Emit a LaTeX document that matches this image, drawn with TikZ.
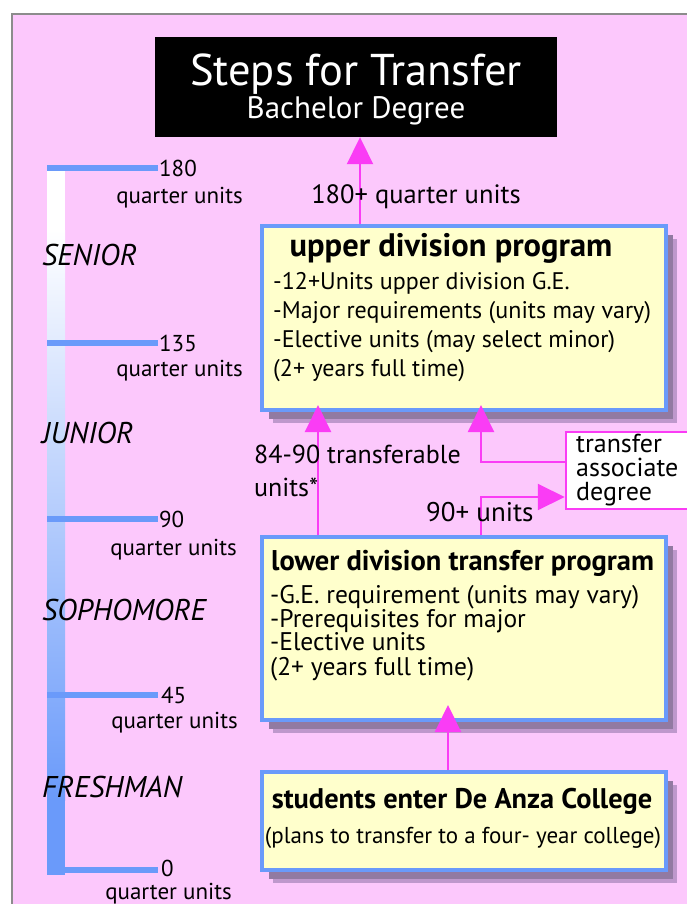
\documentclass[tikz,border=0pt]{standalone}
\usepackage{fontspec}
\setmainfont{PT Sans}
\usetikzlibrary{arrows.meta,shadows}
\definecolor{bgpink}{HTML}{FCC8FC}
\definecolor{boxfill}{HTML}{FFFFCC}
\definecolor{boxblue}{HTML}{6A9AFA}
\definecolor{arrowmag}{HTML}{FA3CF5}
\definecolor{shadowdark}{HTML}{927AA2}
\definecolor{shadowlight}{HTML}{BE98CC}
\definecolor{framegray}{HTML}{8C8C8C}
\tikzset{
  progbox/.style={draw=boxblue, line width=4pt, fill=boxfill, inner sep=0pt,
    general shadow={fill=shadowlight, shadow xshift=11pt, shadow yshift=-13pt},
    general shadow={fill=shadowdark, shadow xshift=7pt, shadow yshift=-9pt}},
  arr/.style={draw=arrowmag, line width=2pt, -{Triangle[width=26pt,length=27pt]}},
  body/.style={inner sep=0pt, font=\fontsize{24}{28}\selectfont},
  lowbody/.style={inner sep=0pt, anchor=base west, font=\fontsize{25.5}{28}\selectfont},
  boldtitle/.style={inner sep=0pt, font=\fontsize{29}{32}\selectfont\bfseries},
  qu/.style={inner sep=0pt, font=\fontsize{23}{26}\selectfont},
  yearlbl/.style={inner sep=0pt, anchor=base west, font=\fontsize{30}{34}\selectfont\itshape},
  tick/.style={draw=boxblue, line width=6pt}
}
\begin{document}
\begin{tikzpicture}[x=1pt,y=-1pt]
\useasboundingbox (0,0) rectangle (687,904);
\clip (0,0) rectangle (687,904);
\fill[white] (0,0) rectangle (687,904);
\fill[bgpink] (12,14) rectangle (687,904);
\draw[framegray, line width=2pt] (12,905) -- (12,14) -- (688,14);

% scale bar
\fill[white] (47,168) rectangle (65,230);
\shade[top color=white, bottom color=boxblue] (47,230) rectangle (65,800);
\fill[boxblue] (47,800) rectangle (65,875);
\foreach \yy in {168,343,519,695,870} {\draw[tick] (47,\yy) -- (158,\yy);}
\node[qu, anchor=base west] (n180) at (159,176) {180};
\node[qu, anchor=base east] (q180) at (243,204) {quarter units};
\node[qu, anchor=base west] (n135) at (159,351) {135};
\node[qu, anchor=base east] (q135) at (243,376) {quarter units};
\node[qu, anchor=base west] (n90) at (159,527) {90};
\node[qu, anchor=base east] (q90) at (237,555) {quarter units};
\node[qu, anchor=base west] (n45) at (161,703) {45};
\node[qu, anchor=base east] (q45) at (238,728) {quarter units};
\node[qu, anchor=base west] (n0) at (161,876) {0};
\node[qu, anchor=base east] (q0) at (232,899) {quarter units};
\node[yearlbl] (senior) at (42,265) {SENIOR};
\node[yearlbl] (junior) at (42,443) {JUNIOR};
\node[yearlbl] (soph) at (42,620) {SOPHOMORE};
\node[yearlbl] (fresh) at (42,797) {FRESHMAN};

% title
\node[fill=black, minimum width=402pt, minimum height=100pt, inner sep=0pt] (title) at (356,87) {};
\node[text=white, inner sep=0pt, anchor=base, font=\fontsize{44.5}{46}\selectfont] (t1) at (356,86) {Steps for Transfer};
\node[text=white, inner sep=0pt, anchor=base, font=\fontsize{31}{34}\selectfont] (t2) at (356,119) {Bachelor Degree};

% boxes
\node[progbox, minimum width=404pt, minimum height=184pt] (upper) at (464,318) {};
\node[progbox, minimum width=404pt, minimum height=183pt] (lower) at (464,628.5) {};
\node[progbox, minimum width=404pt, minimum height=98pt] (bottom) at (464,821) {};
\node[draw=arrowmag, line width=2.5pt, fill=white, minimum width=140pt, minimum height=77pt, inner sep=0pt] (transfer) at (636,470.5) {};

% upper text
\node[boldtitle, anchor=base, font=\fontsize{32.5}{36}\selectfont\bfseries] (ut) at (451,256) {upper division program};
\node[body, anchor=base west] (u1) at (273,289) {-12+Units upper division G.E.};
\node[body, anchor=base west] (u2) at (273,318) {-Major requirements (units may vary)};
\node[body, anchor=base west] (u3) at (273,347) {-Elective units (may select minor)};
\node[body, anchor=base west] (u4) at (273,376) {(2+ years full time)};

% lower text
\node[boldtitle, anchor=base west, font=\fontsize{28.5}{32}\selectfont\bfseries] (lt) at (271,570) {lower division transfer program};
\node[lowbody] (l1) at (270,603) {-G.E. requirement (units may vary)};
\node[lowbody] (l2) at (270,627) {-Prerequisites for major};
\node[lowbody] (l3) at (270,650) {-Elective units};
\node[lowbody] (l4) at (270,675) {(2+ years full time)};

% bottom text
\node[boldtitle, anchor=base, font=\fontsize{28.4}{32}\selectfont\bfseries] (bt) at (462,808) {students enter De Anza College};
\node[body, anchor=base, font=\fontsize{23}{26}\selectfont] (bs) at (463,843) {(plans to transfer to a four- year college)};

% transfer text
\node[body, anchor=base west, font=\fontsize{26}{30}\selectfont] (tr1) at (576,452) {transfer};
\node[body, anchor=base west, font=\fontsize{26}{30}\selectfont] (tr2) at (576,476) {associate};
\node[body, anchor=base west, font=\fontsize{26}{30}\selectfont] (tr3) at (576,500) {degree};

% connectors
\coordinate (ax1) at (360,0);
\coordinate (ax2) at (318,0);
\coordinate (turn3) at (481,462);
\coordinate (turn4) at (481,497);
\coordinate (ax5) at (448,0);
\draw[arr] (upper.north -| ax1) -- (title.south -| ax1);
\draw[arr, shorten >=-7pt] (lower.north -| ax2) -- (upper.south -| ax2);
\draw[arr, shorten >=-7pt] (transfer.west |- turn3) -| (upper.south -| turn3);
\draw[arr] (lower.north -| turn4) |- (transfer.west |- turn4);
\draw[arr, shorten >=-17pt] (bottom.north -| ax5) -- (lower.south -| ax5);

% labels
\node[body, anchor=base, font=\fontsize{26.5}{30}\selectfont] (l180) at (416,204) {180+ quarter units};
\node[body, anchor=base west, font=\fontsize{26}{30}\selectfont] (l8490) at (254,463) {84-90 transferable};
\node[body, anchor=base west, font=\fontsize{26}{30}\selectfont] (l8490b) at (254,496) {units*};
\node[body, anchor=base west, font=\fontsize{27}{30}\selectfont] (l90) at (426,521) {90+ units};
\end{tikzpicture}
\end{document}
